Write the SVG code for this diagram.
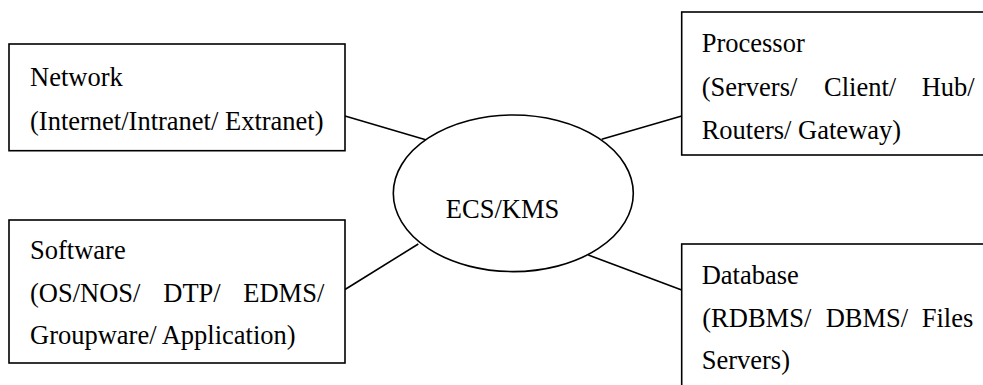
<svg xmlns="http://www.w3.org/2000/svg" width="983" height="385" viewBox="0 0 983 385">
<style>
.box{fill:#fff;stroke:#000;stroke-width:1.6}
.conn{stroke:#000;stroke-width:1.6;fill:none}
text{font-family:"Liberation Serif","Times New Roman",serif;font-size:26.5px;fill:#000}
</style>
<rect width="983" height="385" fill="#fff"/>
<g id="connectors">
<line class="conn" x1="345" y1="116" x2="426.5" y2="140"/>
<line class="conn" x1="681.7" y1="116" x2="601.7" y2="139.3"/>
<line class="conn" x1="345" y1="289.5" x2="418.3" y2="244"/>
<line class="conn" x1="681.7" y1="290" x2="588.3" y2="255"/>
</g>
<g id="network">
<rect class="box" x="9" y="44" width="336" height="106.7"/>
<text x="30" y="86">Network</text>
<text x="30" y="129.5">(Internet/Intranet/ Extranet)</text>
</g>
<g id="processor">
<rect class="box" x="681.7" y="12" width="320" height="143"/>
<text x="701.7" y="52">Processor</text>
<text y="95.5"><tspan x="701.7">(Servers/</tspan><tspan x="824">Client/</tspan><tspan x="921.7">Hub/</tspan></text>
<text x="701.7" y="138.5">Routers/ Gateway)</text>
</g>
<g id="ecs">
<ellipse class="box" cx="513.3" cy="193.3" rx="120" ry="78.3"/>
<text x="502.5" y="217.7" text-anchor="middle">ECS/KMS</text>
</g>
<g id="software">
<rect class="box" x="9" y="220" width="336" height="143"/>
<text x="30" y="259">Software</text>
<text y="302"><tspan x="30">(OS/NOS/</tspan><tspan x="163.3">DTP/</tspan><tspan x="243.3">EDMS/</tspan></text>
<text x="30" y="344">Groupware/ Application)</text>
</g>
<g id="database">
<rect class="box" x="681.7" y="244" width="320" height="160"/>
<text x="701.7" y="284">Database</text>
<text y="327"><tspan x="702.3">(RDBMS/</tspan><tspan x="825.7">DBMS/</tspan><tspan x="921.7">Files</tspan></text>
<text x="701.7" y="369">Servers)</text>
</g>
</svg>
